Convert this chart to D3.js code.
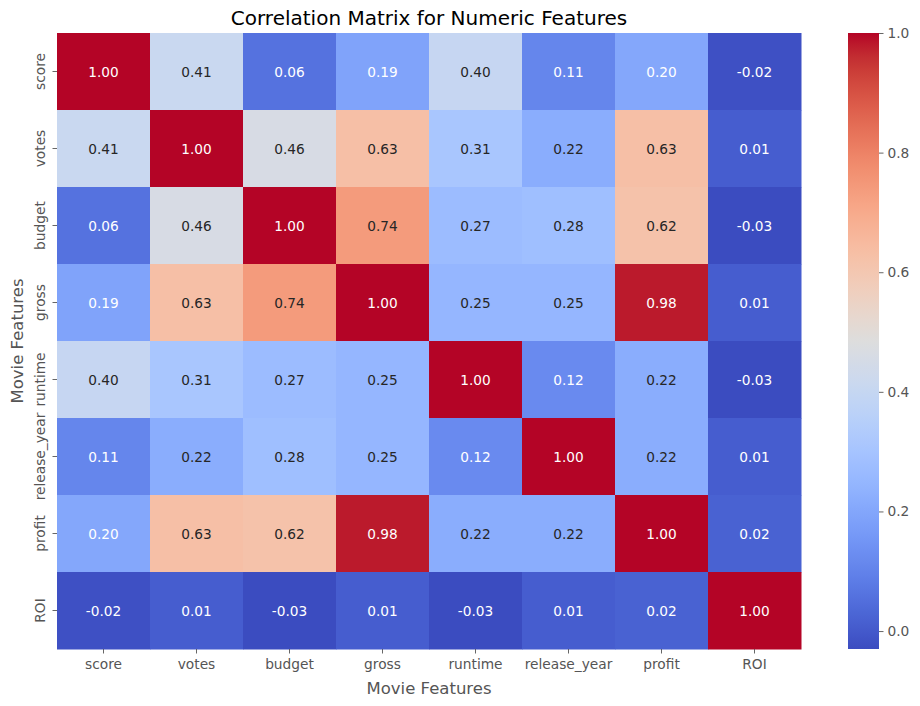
<!DOCTYPE html>
<html><head><meta charset="utf-8">
<script src="https://cdn.jsdelivr.net/npm/d3@7"></script>
<style>body{margin:0;background:#fff}svg{display:block;font-family:"DejaVu Sans",sans-serif}</style>
</head><body><svg id="c" width="920" height="706"></svg>
<script>
const features = ["score","votes","budget","gross","runtime","release_year","profit","ROI"];
const matrix = [
  [1.00,0.41,0.06,0.19,0.40,0.11,0.20,-0.02],
  [0.41,1.00,0.46,0.63,0.31,0.22,0.63,0.01],
  [0.06,0.46,1.00,0.74,0.27,0.28,0.62,-0.03],
  [0.19,0.63,0.74,1.00,0.25,0.25,0.98,0.01],
  [0.40,0.31,0.27,0.25,1.00,0.12,0.22,-0.03],
  [0.11,0.22,0.28,0.25,0.12,1.00,0.22,0.01],
  [0.20,0.63,0.62,0.98,0.22,0.22,1.00,0.02],
  [-0.02,0.01,-0.03,0.01,-0.03,0.01,0.02,1.00]
];
const cbTicks = [0.0,0.2,0.4,0.6,0.8,1.0];
const coolwarmStops = [[59,76,192],[68,90,204],[77,104,215],[87,117,225],[98,130,234],[108,142,241],[119,154,247],[130,165,251],[141,176,254],[152,185,255],[163,194,255],[174,201,253],[184,208,249],[194,213,244],[204,217,238],[213,219,230],[221,221,221],[229,216,209],[236,211,197],[241,204,184],[245,196,172],[247,187,160],[247,177,148],[247,166,135],[244,154,123],[241,141,111],[236,127,99],[229,112,88],[222,96,77],[213,80,66],[203,62,56],[192,40,47],[180,4,38]];

const interp = d3.piecewise(d3.interpolateRgb, coolwarmStops.map(c=>d3.rgb(c[0],c[1],c[2])));
const all = matrix.flat();
const vmin = d3.min(all), vmax = d3.max(all);
const color = d3.scaleSequential([vmin, vmax], interp);

const svg = d3.select("#c");
const L=57, R=801, T=33, B=649;
const x = d3.scaleBand().domain(features).range([L,R]);
const y = d3.scaleBand().domain(features).range([T,B]);
const gray="#555555";
const FONT="DejaVu Sans";
const TICK=13.75;

function lum(c){const r=d3.rgb(c);const f=v=>{v/=255;return v<=0.03928?v/12.92:Math.pow((v+0.055)/1.055,2.4)};return 0.2126*f(r.r)+0.7152*f(r.g)+0.0722*f(r.b);}

const cells=[];
matrix.forEach((row,i)=>row.forEach((v,j)=>cells.push({r:features[i],c:features[j],v})));
svg.append("g").selectAll("rect").data(cells).join("rect")
  .attr("x",d=>x(d.c)).attr("y",d=>y(d.r))
  .attr("width",x.bandwidth()+0.5).attr("height",y.bandwidth()+0.5)
  .attr("fill",d=>color(d.v));
svg.append("g").selectAll("text").data(cells).join("text")
  .attr("x",d=>x(d.c)+x.bandwidth()/2).attr("y",d=>y(d.r)+y.bandwidth()/2)
  .attr("text-anchor","middle").attr("dominant-baseline","central")
  .attr("font-size",13.7).attr("font-family",FONT)
  .attr("fill",d=>lum(color(d.v))>0.408?"#262626":"#ffffff")
  .text(d=>d.v.toFixed(2));

// axes
const xa = svg.append("g").attr("transform",`translate(0,${B})`)
  .call(d3.axisBottom(x).tickSize(4.5).tickPadding(5));
const ya = svg.append("g").attr("transform",`translate(${L},0)`)
  .call(d3.axisLeft(y).tickSize(4.5).tickPadding(5));
[xa,ya].forEach(a=>{a.select(".domain").remove();a.selectAll("line").attr("stroke",gray).attr("stroke-width",0.9);
  a.selectAll("text").attr("fill",gray).attr("font-size",TICK).attr("font-family",FONT);});
ya.selectAll(".tick text").each(function(){
  const t=d3.select(this);t.attr("text-anchor","middle").attr("x",null).attr("dy",null)
   .attr("transform","translate(-17,0) rotate(-90)").attr("dominant-baseline","central");});
xa.selectAll(".tick text").attr("dy",null).attr("y",20);

// title and labels
svg.append("text").attr("x",(L+R)/2).attr("y",25).attr("text-anchor","middle").attr("font-family",FONT)
  .attr("font-size",20).attr("fill","#000").text("Correlation Matrix for Numeric Features");
svg.append("text").attr("x",(L+R)/2).attr("y",694).attr("text-anchor","middle").attr("font-family",FONT)
  .attr("font-size",16.5).attr("fill",gray).text("Movie Features");
svg.append("text").attr("transform",`translate(23,${(T+B)/2}) rotate(-90)`).attr("text-anchor","middle").attr("font-family",FONT)
  .attr("font-size",16.5).attr("fill",gray).text("Movie Features");

// colorbar
const cbL=848, cbW=31;
const cy = d3.scaleLinear().domain([vmin,vmax]).range([B,T]);
const defs=svg.append("defs");
const grad=defs.append("linearGradient").attr("id","cg").attr("x1",0).attr("y1",1).attr("x2",0).attr("y2",0);
d3.range(0,1.0001,0.02).forEach(t=>grad.append("stop").attr("offset",t).attr("stop-color",color(vmin+t*(vmax-vmin))));
svg.append("rect").attr("x",cbL).attr("y",T).attr("width",cbW).attr("height",B-T).attr("fill","url(#cg)");
const ca=svg.append("g").attr("transform",`translate(${cbL+cbW},0)`)
  .call(d3.axisRight(cy).tickValues(cbTicks).tickFormat(d3.format(".1f")).tickSize(4.5).tickPadding(4));
ca.select(".domain").remove();
ca.selectAll("line").attr("stroke",gray).attr("stroke-width",0.9);
ca.selectAll("text").attr("fill",gray).attr("font-size",TICK).attr("font-family",FONT);
</script></body></html>
